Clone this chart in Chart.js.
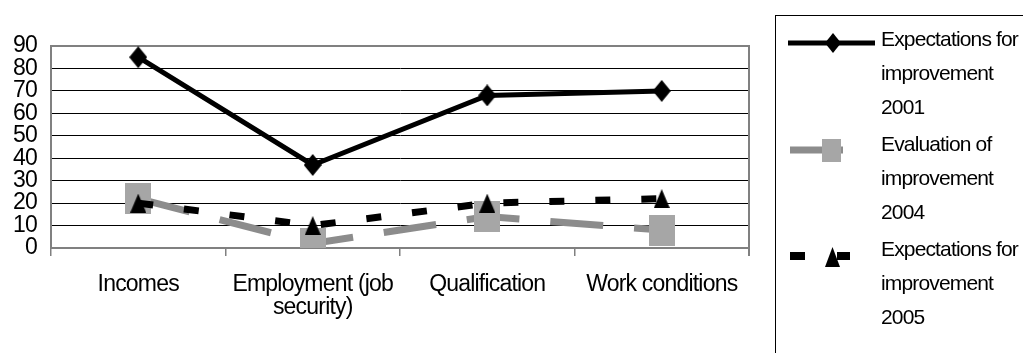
<!DOCTYPE html>
<html>
<head>
<meta charset="utf-8">
<script src="https://cdn.jsdelivr.net/npm/chart.js@4"></script>
<style>
  html, body { margin:0; padding:0; background:#fff; width:1023px; height:353px; overflow:hidden; }
  #wrap { position:absolute; left:0; top:0; }
  #legendBox { position:absolute; left:775px; top:15px; width:300px; height:400px; border:1px solid #000; box-sizing:border-box; }
  .lt { position:absolute; left:881px; font-family:'Liberation Sans', Arial, sans-serif; font-size:21px; line-height:34px; letter-spacing:-0.85px; color:#000; white-space:nowrap; }
  #samples { position:absolute; left:0; top:0; }
</style>
</head>
<body>
<div id="wrap"><canvas id="c" width="770" height="353"></canvas></div>
<div id="legendBox"></div>
<svg id="samples" width="1023" height="353">
  <line x1="788" y1="43" x2="875" y2="43" stroke="#000" stroke-width="5"/>
  <polygon points="833,33 841,43 833,53 825,43" fill="#000"/>
  <line x1="790" y1="150" x2="843" y2="150" stroke="#8c8c8c" stroke-width="7"/>
  <rect x="822" y="139" width="19" height="23" fill="#a6a6a6"/>
  <rect x="790" y="252" width="15" height="8" fill="#000"/>
  <polygon points="825,267 840,267 832.5,247" fill="#000"/>
  <rect x="837" y="252" width="13" height="8" fill="#000"/>
</svg>
<div class="lt" style="top:22px">Expectations for<br>improvement<br>2001</div>
<div class="lt" style="top:127px">Evaluation of<br>improvement<br>2004</div>
<div class="lt" style="top:232px">Expectations for<br>improvement<br>2005</div>
<script>
const categories = ['Incomes', ['Employment (job', 'security)'], 'Qualification', 'Work conditions'];
const seriesNames = ['Expectations for improvement 2001', 'Evaluation of improvement 2004', 'Expectations for improvement 2005'];
const exp2001 = [85, 37, 68, 70];
const eval2004 = [22, 2, 14, 8];
const exp2005 = [20, 10, 20, 22];
const yTicks = [0, 10, 20, 30, 40, 50, 60, 70, 80, 90];

function marker(w, h, fill, shape) {
  const cv = document.createElement('canvas');
  cv.width = w; cv.height = h;
  const g = cv.getContext('2d');
  g.fillStyle = fill;
  g.beginPath();
  if (shape === 'diamond') { g.moveTo(w/2,0); g.lineTo(w,h/2); g.lineTo(w/2,h); g.lineTo(0,h/2); }
  else if (shape === 'triangle') { g.moveTo(w/2,0); g.lineTo(w,h); g.lineTo(0,h); }
  else { g.rect(0,0,w,h); }
  g.closePath();
  g.fill();
  return cv;
}
const diamond = marker(18, 22, '#000', 'diamond');
const square = marker(26, 31, '#a6a6a6', 'rect');
const triangle = marker(16, 19, '#000', 'triangle');

const LS = '-0.8px';
const spacing = {
  id: 'spacing',
  beforeUpdate(c) { c.ctx.letterSpacing = LS; },
  beforeLayout(c) { c.ctx.letterSpacing = LS; },
  beforeDraw(c) { c.ctx.letterSpacing = LS; }
};
const border = {
  id: 'plotBorder',
  beforeDatasetsDraw(c) {
    const a = c.chartArea, g = c.ctx;
    g.save();
    g.strokeStyle = '#808080';
    g.lineWidth = 2;
    g.beginPath();
    g.moveTo(a.left, a.top); g.lineTo(a.right, a.top); g.lineTo(a.right, a.bottom + 8);
    g.stroke();
    g.restore();
  }
};

Chart.defaults.font.family = "'Liberation Sans', Arial, sans-serif";
Chart.defaults.font.size = 23;
Chart.defaults.color = '#000';

new Chart(document.getElementById('c'), {
  type: 'line',
  data: {
    labels: categories,
    datasets: [
      { label: seriesNames[0], data: exp2001, borderColor: '#000', borderWidth: 5, pointStyle: diamond, pointRadius: 10, fill: false, tension: 0, order: 0 },
      { label: seriesNames[1], data: eval2004, borderColor: '#8c8c8c', borderWidth: 7, borderDash: [53, 31], pointStyle: square, pointRadius: 14, fill: false, tension: 0, order: 2 },
      { label: seriesNames[2], data: exp2005, borderColor: '#000', borderWidth: 7, borderDash: [15, 31], pointStyle: triangle, pointRadius: 9, fill: false, tension: 0, order: 1 }
    ]
  },
  options: {
    responsive: false,
    animation: false,
    layout: { padding: { top: 46, right: 16, left: 0, bottom: 0 } },
    plugins: { legend: { display: false }, tooltip: { enabled: false } },
    scales: {
      x: {
        offset: true,
        grid: { offset: true, drawOnChartArea: false, drawTicks: true, tickLength: 8, color: '#808080', lineWidth: 1.5 },
        border: { color: '#808080', width: 2 },
        ticks: { padding: 17, maxRotation: 0, autoSkip: false, font: { size: 23, lineHeight: 1.0 } },
        afterFit(s) { s.height = 105; }
      },
      y: {
        min: 0, max: 90,
        afterBuildTicks(s) { s.ticks = yTicks.map(v => ({ value: v })); },
        grid: { drawTicks: false, color: (ctx) => (ctx.tick && (ctx.tick.value === 0 || ctx.tick.value === 90)) ? '#808080' : '#000', lineWidth: (ctx) => (ctx.tick && ctx.tick.value === 90) ? 2 : 1 },
        border: { color: '#808080', width: 2 },
        ticks: { padding: 14, autoSkip: false, font: { size: 23 } },
        afterFit(s) { s.width = 51; }
      }
    }
  },
  plugins: [spacing, border]
});
</script>
</body>
</html>
